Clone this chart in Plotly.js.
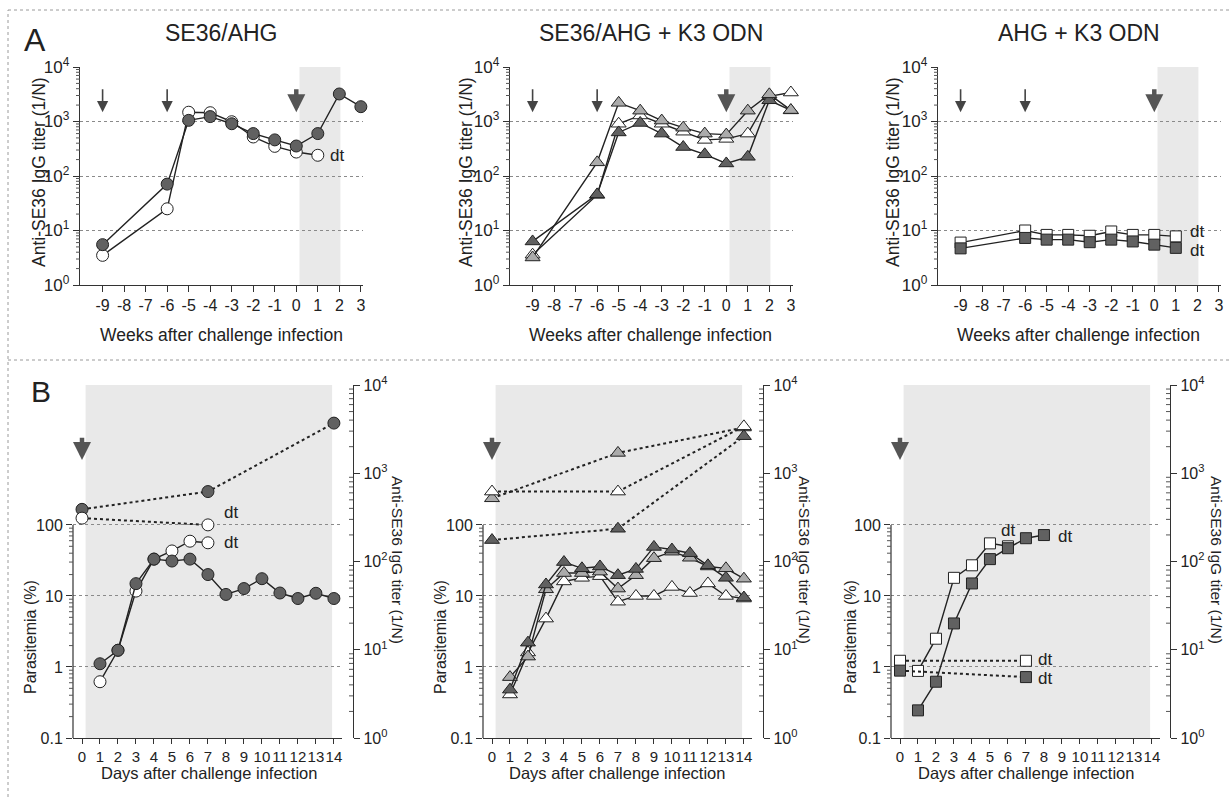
<!DOCTYPE html>
<html><head><meta charset="utf-8">
<script src="https://cdn.plot.ly/plotly-3.0.1.min.js"></script>
<style>html,body{margin:0;padding:0;background:#fff}#chart{width:1229px;height:797px}</style>
</head><body><div id="chart"></div>
<script>
// ---------------- data ----------------
const weekTickVals = [-9,-8,-7,-6,-5,-4,-3,-2,-1,0,1,2,3];
const weekTickText = ['-9','-8','-7','-6','-5','-4','-3','-2','-1','0','1','2','3'];
const dayTickVals = [0,1,2,3,4,5,6,7,8,9,10,11,12,13,14];
const dayTickText = ['0','1','2','3','4','5','6','7','8','9','10','11','12','13','14'];
const titerTickVals = [1,10,100,1000,10000];
const titerTickText = ['10<sup>0</sup>','10<sup>1</sup>','10<sup>2</sup>','10<sup>3</sup>','10<sup>4</sup>'];
const paraTickVals = [0.1,1,10,100];
const paraTickText = ['0.1','1','10','100'];

const panelTitles = ['SE36/AHG','SE36/AHG + K3 ODN','AHG + K3 ODN'];

// A1: SE36/AHG (weeks)
const a1FilledWeeks = [-9,-6,-5,-4,-3,-2,-1,0,1,2,3];
const a1Filled      = [5.5,71,1050,1230,910,600,460,355,600,3200,1870];
const a1OpenWeeks   = [-9,-6,-5,-4,-3,-2,-1,0,1];
const a1Open        = [3.5,25,1480,1450,990,520,350,275,240];

// A2: SE36/AHG + K3 ODN (weeks)
const a2Weeks = [-9,-6,-5,-4,-3,-2,-1,0,1,2,3];
const a2Gray  = [3.2,178,2200,1580,1040,770,600,575,1580,3150,1620];
const a2Open  = [3.6,45,910,1290,910,650,460,480,600,2900,3400];
const a2Dark  = [6.3,46,630,940,600,340,250,170,225,2450,1600];

// A3: AHG + K3 ODN (weeks)
const a3Weeks = [-9,-6,-5,-4,-3,-2,-1,0,1];
const a3Open  = [6.0,10,8.3,8.3,8.0,9.6,8.3,8.3,7.8];
const a3Dark  = [4.7,7.3,6.8,6.8,6.1,6.8,6.3,5.5,4.8];

// B1: parasitemia (%) and titer, days
const b1FilledDays = [1,2,3,4,5,6,7,8,9,10,11,12,13,14];
const b1FilledPara = [1.11,1.72,14.9,33,31,33,20,10.5,12.7,17.5,11,9.2,10.9,9.2];
const b1OpenDays   = [1,2,3,4,5,6,7];
const b1OpenPara   = [0.62,1.72,11.7,33,43,59,56];
const b1FilledTiterDays = [0,7,14];
const b1FilledTiter     = [390,620,3700];
const b1OpenTiterDays   = [0,7];
const b1OpenTiter       = [310,260];

// B2
const b2Days     = [1,2,3,4,5,6,7,8,9,10,11,12,13,14];
const b2DarkPara = [0.48,2.2,14.5,30,24.5,26,19.6,24,49,45,40,27,18,9.5];
const b2GrayPara = [0.72,1.4,12.4,21,21,22,12.7,19.6,34,42,34.5,26,24.5,17.5];
const b2OpenPara = [0.41,1.6,4.8,16,18,19,8.3,10,10,13.4,11,15,10,9.2];
const b2TiterDays = [0,7,14];
const b2GrayTiter = [520,1700,3300];
const b2OpenTiter = [620,620,3400];
const b2DarkTiter = [175,235,2630];

// B3
const b3OpenDays   = [1,2,3,4,5,6];
const b3OpenPara   = [0.88,2.5,18,27,55,50];
const b3FilledDays = [1,2,3,4,5,6,7,8];
const b3FilledPara = [0.245,0.62,4.1,15,33,47,65,72];
const b3TiterDays  = [0,7];
const b3OpenTiter  = [7.5,7.5];
const b3FilledTiter= [5.8,4.9];

// ---------------- style ----------------
const FONT = '"Liberation Sans", Arial, sans-serif';
const INK = '#222';
const AX = '#333';
const DARK = '#616161', LIGHT = '#ababab', WHITE = '#ffffff';
const W = 1229, H = 797;
const px = v => v / W, py = v => 1 - v / H;

function minorVals(lo, hi) {
  const out = [];
  for (let k = -2; k <= 4; k++) for (let m = 2; m <= 9; m++) {
    const v = m * Math.pow(10, k);
    if (v > lo && v < hi) out.push(+v.toPrecision(3));
  }
  return out;
}

function series(x, y, xa, ya, sym, fill, size, dash) {
  return {
    type: 'scatter', mode: 'lines+markers', x: x, y: y, xaxis: xa, yaxis: ya,
    line: {color: INK, width: dash ? 2 : 1.4, dash: dash || 'solid'},
    marker: {symbol: sym, size: size, color: fill, line: {color: INK, width: 1}},
    cliponaxis: false, showlegend: false, hoverinfo: 'skip'
  };
}

const traces = [
  // A1
  series(a1OpenWeeks, a1Open, 'x', 'y', 'circle', WHITE, 12),
  series(a1FilledWeeks, a1Filled, 'x', 'y', 'circle', DARK, 12),
  // A2
  series(a2Weeks, a2Open, 'x2', 'y2', 'triangle-up', WHITE, 13),
  series(a2Weeks, a2Dark, 'x2', 'y2', 'triangle-up', DARK, 13),
  series(a2Weeks, a2Gray, 'x2', 'y2', 'triangle-up', LIGHT, 13),
  // A3
  series(a3Weeks, a3Open, 'x3', 'y3', 'square', WHITE, 11),
  series(a3Weeks, a3Dark, 'x3', 'y3', 'square', DARK, 11),
  // B1
  series(b1FilledTiterDays, b1FilledTiter, 'x4', 'y5', 'circle', DARK, 12, 'dot'),
  series(b1OpenTiterDays, b1OpenTiter, 'x4', 'y5', 'circle', WHITE, 12, 'dot'),
  series(b1OpenDays, b1OpenPara, 'x4', 'y4', 'circle', WHITE, 12),
  series(b1FilledDays, b1FilledPara, 'x4', 'y4', 'circle', DARK, 12),
  // B2
  series(b2TiterDays, b2GrayTiter, 'x5', 'y7', 'triangle-up', LIGHT, 13, 'dot'),
  series(b2TiterDays, b2OpenTiter, 'x5', 'y7', 'triangle-up', WHITE, 13, 'dot'),
  series(b2TiterDays, b2DarkTiter, 'x5', 'y7', 'triangle-up', DARK, 13, 'dot'),
  series(b2Days, b2OpenPara, 'x5', 'y6', 'triangle-up', WHITE, 13),
  series(b2Days, b2GrayPara, 'x5', 'y6', 'triangle-up', LIGHT, 13),
  series(b2Days, b2DarkPara, 'x5', 'y6', 'triangle-up', DARK, 13),
  // B3
  series(b3TiterDays, b3OpenTiter, 'x6', 'y9', 'square', WHITE, 11, 'dot'),
  series(b3TiterDays, b3FilledTiter, 'x6', 'y9', 'square', DARK, 11, 'dot'),
  series(b3OpenDays, b3OpenPara, 'x6', 'y8', 'square', WHITE, 11),
  series(b3FilledDays, b3FilledPara, 'x6', 'y8', 'square', DARK, 11)
];

// ---------------- axes ----------------
const aDomY = [py(285), py(67)];
const bDomY = [py(738), py(385)];
const aLeft = [80, 510, 938];
const bLeft = [73, 483, 891];
const bRight = [353, 763, 1170];
const aDomX = aLeft.map(l => [px(l), px(l + 283)]);
const bDomX = bLeft.map(l => [px(l), px(l + 269)]);

function weekAxis(dom, anchor) {
  return {domain: dom, anchor: anchor, range: [-10.05, 3.1], tickmode: 'array',
    tickvals: weekTickVals, ticktext: weekTickText, ticks: 'outside', ticklen: 6, tickangle: 0,
    tickcolor: AX, showline: true, linecolor: AX, linewidth: 1.2, showgrid: false,
    zeroline: false, tickfont: {family: FONT, size: 16, color: INK}, fixedrange: true};
}
function dayAxis(dom, anchor) {
  return {domain: dom, anchor: anchor, range: [-0.5, 14.45], tickmode: 'array',
    tickvals: dayTickVals, ticktext: dayTickText, ticks: 'outside', ticklen: 5, tickangle: 0,
    tickcolor: AX, showline: true, linecolor: AX, linewidth: 1.2, showgrid: false,
    zeroline: false, tickfont: {family: FONT, size: 15, color: INK}, fixedrange: true};
}
function titerAxis(dom, anchor, extra) {
  return Object.assign({domain: dom, anchor: anchor, type: 'log', range: [0, 4],
    tickmode: 'array', tickvals: titerTickVals, ticktext: titerTickText,
    ticks: 'outside', ticklen: 6, tickcolor: AX, showline: true, linecolor: AX, linewidth: 1.2,
    showgrid: true, gridcolor: '#8a8a8a', griddash: 'dot', gridwidth: 1, zeroline: false,
    tickfont: {family: FONT, size: 17, color: INK}, fixedrange: true}, extra || {});
}
function paraAxis(dom, anchor) {
  return {domain: dom, anchor: anchor, type: 'log', range: [-1, 3.97],
    tickmode: 'array', tickvals: paraTickVals, ticktext: paraTickText,
    ticks: 'outside', ticklen: 6, tickcolor: AX, showline: false,
    showgrid: true, gridcolor: '#8a8a8a', griddash: 'dot', gridwidth: 1, zeroline: false,
    tickfont: {family: FONT, size: 16, color: INK}, fixedrange: true};
}

const layout = {
  width: W, height: H, margin: {l: 0, r: 0, t: 0, b: 0},
  paper_bgcolor: '#fff', plot_bgcolor: 'rgba(0,0,0,0)', showlegend: false,
  font: {family: FONT, color: INK},
  xaxis: weekAxis(aDomX[0], 'y'),
  xaxis2: weekAxis(aDomX[1], 'y2'),
  xaxis3: weekAxis(aDomX[2], 'y3'),
  xaxis4: dayAxis(bDomX[0], 'y4'),
  xaxis5: dayAxis(bDomX[1], 'y6'),
  xaxis6: dayAxis(bDomX[2], 'y8'),
  yaxis: titerAxis(aDomY, 'x'),
  yaxis2: titerAxis(aDomY, 'x2'),
  yaxis3: titerAxis(aDomY, 'x3'),
  yaxis4: paraAxis(bDomY, 'x4'),
  yaxis5: titerAxis(bDomY, 'free', {overlaying: 'y4', side: 'right', position: px(bRight[0]), showgrid: false, tickfont: {family: FONT, size: 16, color: INK}}),
  yaxis6: paraAxis(bDomY, 'x5'),
  yaxis7: titerAxis(bDomY, 'free', {overlaying: 'y6', side: 'right', position: px(bRight[1]), showgrid: false, tickfont: {family: FONT, size: 16, color: INK}}),
  yaxis8: paraAxis(bDomY, 'x6'),
  yaxis9: titerAxis(bDomY, 'free', {overlaying: 'y8', side: 'right', position: px(bRight[2]), showgrid: false, tickfont: {family: FONT, size: 16, color: INK}}),
  shapes: [], annotations: []
};

// shading (challenge period)
const SHADE = '#e9e9e9';
['x','x2','x3'].forEach((xa, i) => {
  const ya = ['y','y2','y3'][i];
  layout.shapes.push({type: 'rect', xref: xa, yref: ya + ' domain', x0: 0.15, x1: 2.05, y0: 0, y1: 1,
    fillcolor: SHADE, line: {width: 0}, layer: 'below'});
});
[['x4','y4'],['x5','y6'],['x6','y8']].forEach(([xa, ya]) => {
  layout.shapes.push({type: 'rect', xref: xa, yref: ya + ' domain', x0: 0.2, x1: 13.9, y0: 0, y1: 1,
    fillcolor: SHADE, line: {width: 0}, layer: 'below'});
  // left axis line from 0.1 to 100 only
  layout.shapes.push({type: 'line', xref: xa + ' domain', yref: ya, x0: 0, x1: 0, y0: 0.1, y1: 100,
    line: {color: AX, width: 1.2}});
});

// minor log ticks drawn as short marks on each value axis
function minorTicks(ya, axisX, side, lo, hi) {
  minorVals(lo, hi).forEach(v => {
    layout.shapes.push({type: 'line', xref: 'paper', yref: ya, x0: px(axisX), x1: px(axisX + side * 4),
      y0: v, y1: v, line: {color: '#555', width: 1}});
  });
}
['y','y2','y3'].forEach((ya, i) => minorTicks(ya, aLeft[i], -1, 1, 10000));
['y4','y6','y8'].forEach((ya, i) => minorTicks(ya, bLeft[i], -1, 0.1, 100));
['y5','y7','y9'].forEach((ya, i) => minorTicks(ya, bRight[i], -1, 1, 10000));

// frame (top and left edges) and separator
const FRAME = {color: '#9a9a9a', width: 1, dash: 'dot'};
layout.shapes.push({type: 'line', xref: 'paper', yref: 'paper', x0: px(8), x1: 1, y0: py(10), y1: py(10), line: FRAME});
layout.shapes.push({type: 'line', xref: 'paper', yref: 'paper', x0: px(8), x1: px(8), y0: 0, y1: py(10), line: FRAME});
layout.shapes.push({type: 'line', xref: 'paper', yref: 'paper', x0: px(8), x1: 1, y0: py(360), y1: py(360), line: FRAME});

const A = layout.annotations;
function text(t, x, y, size, opts) {
  A.push(Object.assign({xref: 'paper', yref: 'paper', x: px(x), y: py(y), text: t, showarrow: false,
    font: {family: FONT, size: size, color: INK}, xanchor: 'center', yanchor: 'middle'}, opts || {}));
}
// panel letters
text('A', 35, 40, 32);
text('B', 41, 391, 30);
// titles
text(panelTitles[0], 222, 33, 23);
text(panelTitles[1], 651, 33, 23);
text(panelTitles[2], 1079, 33, 23);
// A axis titles
[39, 466, 893].forEach(x => text('Anti-SE36 IgG titer (1/N)', x, 172, 17.5, {textangle: -90}));
[222, 651, 1078].forEach(x => text('Weeks after challenge infection', x, 335, 17.5));
// B axis titles
[30, 440, 850].forEach(x => text('Parasitemia (%)', x, 637, 16, {textangle: -90}));
[398, 805, 1217].forEach(x => text('Anti-SE36 IgG titer (1/N)', x, 560, 15.5, {textangle: 90}));
[209, 617, 1026].forEach(x => text('Days after challenge infection', x, 773, 16.5));

// arrows (immunizations and challenge)
function arrow(xa, ya, x, tip, tail, thick) {
  A.push({xref: xa, yref: ya, axref: xa, ayref: ya, x: x, y: tip, ax: x, ay: tail, text: '',
    showarrow: true, arrowhead: 2, arrowsize: thick ? 0.8 : 1.4, arrowwidth: thick ? 4.5 : 1.6,
    arrowcolor: thick ? '#555' : '#444', standoff: 0, startstandoff: 0});
}
[['x','y'],['x2','y2'],['x3','y3']].forEach(([xa, ya]) => {
  arrow(xa, ya, -9, 3.17, 3.62, false);
  arrow(xa, ya, -6, 3.17, 3.62, false);
  arrow(xa, ya, 0, 3.17, 3.62, true);
});
[['x4','y5'],['x5','y7'],['x6','y9']].forEach(([xa, ya]) => arrow(xa, ya, 0, 3.15, 3.42, true));

// "dt" labels (death)
function dt(xa, ya, x, y, xs, ys, anchor) {
  A.push({xref: xa, yref: ya, x: x, y: Math.log10(y), text: 'dt', showarrow: false,
    xanchor: anchor || 'left', yanchor: 'middle', xshift: xs, yshift: ys,
    font: {family: FONT, size: 17, color: INK}});
}
dt('x', 'y', 1, a1Open[a1Open.length - 1], 10, 0);
dt('x3', 'y3', 1, a3Open[a3Open.length - 1], 12, 5);
dt('x3', 'y3', 1, a3Dark[a3Dark.length - 1], 12, -3);
dt('x4', 'y5', 7, b1OpenTiter[1], 14, 12);
dt('x4', 'y4', 7, b1OpenPara[6], 14, 0);
dt('x6', 'y9', 7, b3OpenTiter[1], 10, 1);
dt('x6', 'y9', 7, b3FilledTiter[1], 10, -1);
dt('x6', 'y8', 8, b3FilledPara[7], 12, -1);
dt('x6', 'y8', 6, b3OpenPara[5], 0, 16, 'center');

Plotly.newPlot('chart', traces, layout, {displayModeBar: false, staticPlot: true});
</script></body></html>
